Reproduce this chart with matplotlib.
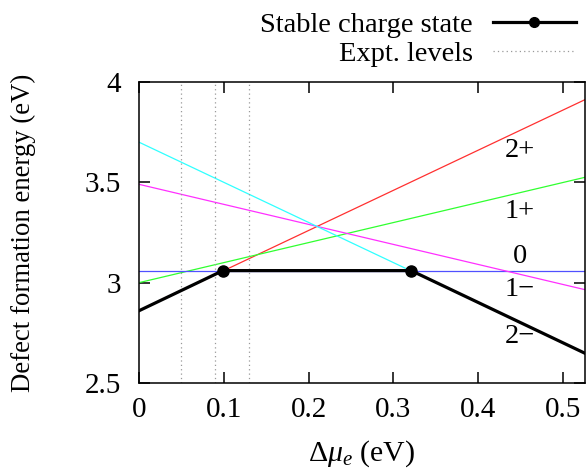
import numpy as np
import matplotlib
matplotlib.use('Agg')
import matplotlib.pyplot as plt
from matplotlib.ticker import FormatStrFormatter

plt.rcParams['font.family'] = ['Liberation Serif', 'DejaVu Serif']
plt.rcParams['mathtext.fontset'] = 'custom'
plt.rcParams['mathtext.rm'] = 'Liberation Serif'
plt.rcParams['mathtext.it'] = 'Liberation Serif:italic'
plt.rcParams['font.size'] = 20

# charge state lines, read at the two ends of the x range
x_ends = [0.0, 0.526]
charges = ['2+', '1+', '0', '1\u2212', '2\u2212']
e_left = [2.86, 3.00, 3.06, 3.49, 3.70]
e_right = [3.912, 3.525, 3.06, 2.965, 2.648]
colors = ['#ff3030', '#30ff30', '#5050ff', '#ff30ff', '#30ffff']
# label positions of the charge states
label_x = [0.449, 0.449, 0.449, 0.449, 0.449]
label_y = [3.66, 3.355, 3.13, 2.965, 2.73]

# stable charge state (lowest energy)
stable_x = [0.0, 0.099, 0.321, 0.526]
stable_y = [2.86, 3.06, 3.06, 2.648]

# experimental levels
expt_x = [0.05, 0.09, 0.13]

fig = plt.figure(figsize=(5.87, 4.69), dpi=100)
ax = fig.add_axes([0.2368, 0.1834, 0.7598, 0.6418])

for el, er, c in zip(e_left, e_right, colors):
    ax.plot(x_ends, [el, er], color=c, lw=0.9)

for i, xe in enumerate(expt_x):
    ax.axvline(xe, color='#999999', lw=0.9, ls=(0, (1, 2.5)),
               label='Expt. levels' if i == 0 else None)

ax.plot(stable_x, stable_y, color='black', lw=2.3, zorder=5)
ax.plot(stable_x[1:3], stable_y[1:3], 'o', color='black', ms=8, zorder=6)
h_stable, = ax.plot([], [], '-o', color='black', lw=2.3, ms=7, label='Stable charge state')

for lab, lx, ly in zip(charges, label_x, label_y):
    ax.text(lx, ly, lab, ha='center', va='center', fontsize=20.5)

ax.set_xlim(0, 0.526)
ax.set_ylim(2.5, 4.0)
ax.set_xticks([0, 0.1, 0.2, 0.3, 0.4, 0.5])
ax.set_yticks([2.5, 3.0, 3.5, 4.0])
ax.xaxis.set_major_formatter(FormatStrFormatter('%g'))
ax.yaxis.set_major_formatter(FormatStrFormatter('%g'))
ax.tick_params(direction='in', length=8, width=1.1, top=True, right=True,
               labelsize=21)
ax.tick_params(axis='x', pad=10)
ax.tick_params(axis='y', pad=13)
for s in ax.spines.values():
    s.set_linewidth(1.1)

ax.set_xlabel(r'$\Delta\mu_e$ (eV)', labelpad=11, fontsize=21.5)
ax.set_ylabel('Defect formation energy (eV)', labelpad=35, fontsize=19.3)

handles, labels = ax.get_legend_handles_labels()
order = [labels.index('Stable charge state'), labels.index('Expt. levels')]
fig.legend([handles[i] for i in order], [labels[i] for i in order],
           loc='upper right', bbox_to_anchor=(0.995, 0.993), frameon=False,
           markerfirst=False, handlelength=2.9, labelspacing=0.1,
           handletextpad=0.7, borderaxespad=0.2, borderpad=0.1,
           fontsize=20.5)

fig.savefig('out.png', dpi=100)
